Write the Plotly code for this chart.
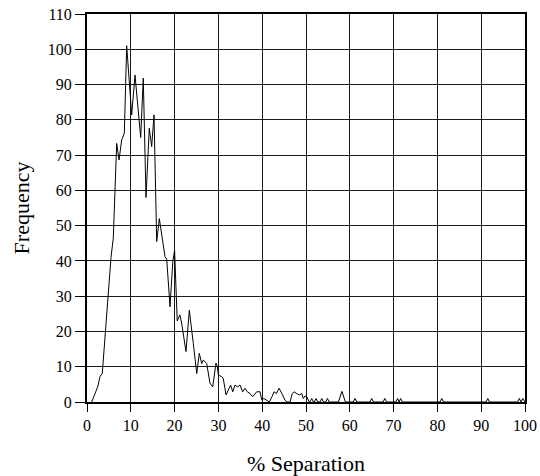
import plotly.graph_objects as go

separation = [
    1.07, 2.44, 2.97, 3.49, 5.48, 6.0, 6.78, 7.31, 7.92, 8.52, 9.06, 10.2, 10.96,
    12.26, 12.85, 13.47, 14.22, 14.77, 15.3, 15.91, 16.51, 17.05, 17.81, 18.2,
    18.95, 19.6, 20.0, 20.6, 21.2, 21.6, 22.6, 23.36, 23.9, 24.27, 25.05, 25.64,
    26.19, 26.55, 27.33, 28.08, 28.7, 29.45, 29.75, 30.0, 30.75, 31.1, 31.74,
    32.26, 32.8, 33.27, 33.79, 34.3, 34.93, 35.55, 36.07, 36.6, 37.2, 37.83,
    38.36, 38.74, 39.5, 39.89, 40.4, 41.03, 41.62, 42.24, 42.7, 43.26, 43.84,
    44.5, 45.2, 45.66, 46.35, 46.87, 47.26, 47.88, 48.47, 49.02, 49.38, 49.77,
    50.16, 50.75, 50.9, 51.3, 51.7, 51.9, 52.3, 52.7, 53.2, 53.6, 54.0, 54.5,
    54.9, 55.3, 57.4, 58.2, 59.0, 60.8, 61.2, 61.6, 64.6, 65.0, 65.4, 67.6,
    68.0, 68.4, 70.5, 70.9, 71.25, 71.6, 72.0, 80.6, 81.0, 81.4, 91.1, 91.5,
    91.9, 98.3, 98.7, 99.1, 99.5, 100.0,
]
frequency = [
    0, 4.3, 7.2, 8.1, 41, 46.4, 73.3, 68.6, 74.3, 76.2, 101, 81.4, 92.7,
    75, 91.8, 58, 77.6, 72.4, 81.4, 45.5, 52, 47, 41.2, 40.5,
    27, 40, 43, 23, 24.7, 22.4, 14.3, 26, 21, 16.6, 8.1, 13.8,
    10.9, 11.9, 10.9, 5.3, 4.3, 11, 10, 7.6, 7.2, 6.7, 2,
    3.4, 4.8, 2.9, 4.8, 4.3, 4.8, 2.9, 3.9, 2.9, 2.4, 1.5,
    2.4, 2.9, 2.9, 0.6, 1.0, 0.6, 0, 1.5, 2.9, 2.4, 3.9,
    2.4, 0.5, 0, 0, 2.4, 2.9, 2.4, 2.0, 2.4, 1.0, 1.7,
    1.5, 0, 0, 1, 0, 0, 1, 0, 0, 1, 0, 0,
    1, 0, 0, 3, 0, 0, 1, 0, 0, 1, 0, 0,
    1, 0, 0, 1, 0, 1, 0, 0, 1, 0, 0, 1,
    0, 0, 1, 0, 1, 0,
]

x_ticks = list(range(0, 101, 10))
y_ticks = list(range(0, 111, 10))

font_family = "Liberation Serif, Times New Roman, serif"

fig = go.Figure()
fig.add_trace(go.Scatter(
    x=separation, y=frequency, mode="lines",
    line=dict(color="black", width=1),
    showlegend=False, hoverinfo="skip",
))

fig.update_layout(
    width=540, height=476,
    margin=dict(l=87, r=15, t=14, b=74),
    paper_bgcolor="white", plot_bgcolor="white",
    font=dict(family=font_family, color="black", size=16),
)
fig.update_xaxes(
    range=[0, 100], tickvals=x_ticks, ticktext=[str(v) for v in x_ticks],
    showgrid=True, gridcolor="#1a1a1a", gridwidth=1,
    showline=True, linecolor="black", linewidth=2, mirror=True,
    ticks="outside", ticklen=8, tickcolor="black", tickwidth=1,
    zeroline=False, automargin=False,
    title=dict(text="% Separation", font=dict(size=22), standoff=28),
)
fig.update_yaxes(
    range=[0, 110], tickvals=y_ticks, ticktext=[str(v) for v in y_ticks],
    showgrid=True, gridcolor="#1a1a1a", gridwidth=1,
    showline=True, linecolor="black", linewidth=2, mirror=True,
    ticks="outside", ticklen=10, tickcolor="black", tickwidth=1,
    zeroline=False, automargin=False,
    title=dict(text="Frequency", font=dict(size=22), standoff=12),
)

fig.write_html(
    "out.html",
    config={"displayModeBar": False, "staticPlot": True},
    post_script="document.body.style.margin='0';document.body.style.overflow='hidden';",
)
